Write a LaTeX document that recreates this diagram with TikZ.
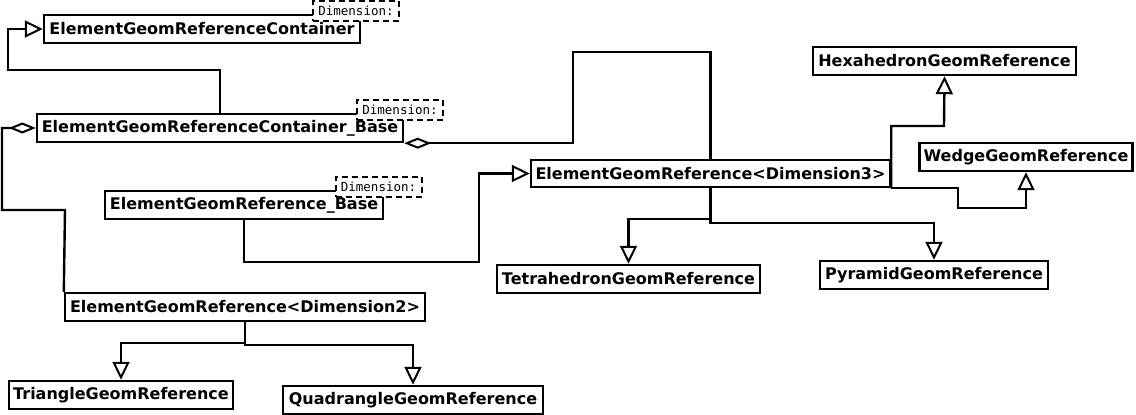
\documentclass[tikz,border=0pt]{standalone}
\usepackage{fontspec}
\setmainfont{DejaVu Sans}
\newfontfamily\monof{DejaVu Sans Mono}
\usetikzlibrary{arrows.meta}
\begin{document}
\begin{tikzpicture}[x=1pt,y=-1pt,
  cls/.style={draw,line width=2.4pt,fill=white,inner sep=0pt,minimum height=28pt,font=\fontsize{16}{18}\selectfont\bfseries},
  tag/.style={draw,line width=2pt,dash pattern=on 6pt off 4pt,fill=white,inner sep=0pt,minimum width=86pt,minimum height=20pt,font=\fontsize{12.5}{15}\monof},
  conn/.style={line width=2.4pt},
  inh/.style={conn,-{Triangle[length=18pt,width=17pt,fill=white,line width=2pt]}},
  agg/.style={conn,-{Diamond[length=27pt,width=11pt,fill=white,line width=2pt]}}]
\useasboundingbox (0,0) rectangle (1136,415);
\node[cls,minimum width=316pt] (cont) at (202,29) {ElementGeomReferenceContainer};
\node[cls,minimum width=366pt] (cbase) at (220,128) {ElementGeomReferenceContainer\_Base};
\node[cls,minimum width=278pt] (base) at (244,205) {ElementGeomReference\_Base};
\node[cls,minimum width=359pt,minimum height=27pt] (dim3) at (710.5,173.5) {ElementGeomReference<Dimension3>};
\node[cls,minimum width=263pt] (hex) at (944.5,61) {HexahedronGeomReference};
\node[cls,minimum width=213pt] (wedge) at (1026,157) {WedgeGeomReference};
\node[cls,minimum width=263pt] (tetra) at (628.5,279) {TetrahedronGeomReference};
\node[cls,minimum width=228pt] (pyr) at (934,275) {PyramidGeomReference};
\node[cls,minimum width=360pt] (dim2) at (245,307) {ElementGeomReference<Dimension2>};
\node[cls,minimum width=224pt] (tri) at (121,395) {TriangleGeomReference};
\node[cls,minimum width=260pt] (quad) at (413,400) {QuadrangleGeomReference};
\node[tag] (conttag) at (356,11) {Dimension:};
\node[tag] (cbasetag) at (400,109.5) {Dimension:};
\node[tag] (basetag) at (378.5,187) {Dimension:};
% connectors
\draw[inh] (cbase.north) |- (8,70) |- (cont.west);
\draw[agg] (dim2.north west) -- (65,210) -- (2,210) |- (cbase.west);
\draw[agg] (dim3.north) -- (710.5,52) -- (573,52) |- (cbase.south east);
\draw[inh] (base.south) |- (479,262) |- (dim3.west);
\draw[inh] (dim3.south east) |- (944,126) -- (hex.south);
\draw[inh] (dim3.south east) -| (958,208) -| (wedge.south);
\draw[inh] (dim3.south) -- (710.5,219) -| (tetra.north);
\draw[inh] (dim3.south) -- (710.5,223) -| (pyr.north);
\draw[inh] (dim2.south) -- (245,343) -| (tri.north);
\draw[inh] (dim2.south) -- (245,345) -| (quad.north);
\end{tikzpicture}
\end{document}
